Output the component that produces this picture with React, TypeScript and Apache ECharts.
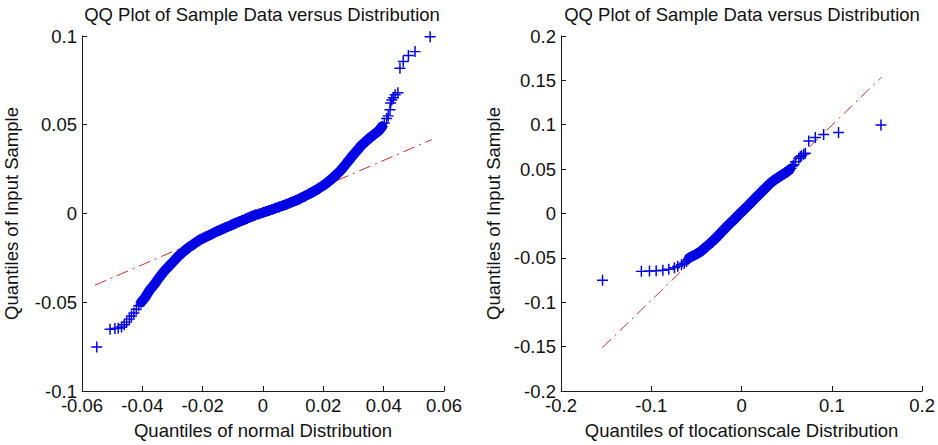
import React, { useEffect, useRef } from "react";
import * as echarts from "echarts";

// Sorted input sample (shared y values of both QQ plots)
const sampleQuantiles = [
  -0.0752, -0.0652, -0.0648, -0.0646, -0.0640, -0.0627, -0.0612, -0.0595, -0.0578, -0.0560,
  -0.0540, -0.0520, -0.0500, -0.0474, -0.0452, -0.0430, -0.0412, -0.0395, -0.0375, -0.0355,
  -0.0337, -0.0320, -0.0305, -0.0290, -0.0274, -0.0258, -0.0245, -0.0232, -0.0220, -0.0207,
  -0.0196, -0.0186, -0.0176, -0.0166, -0.0157, -0.0148, -0.0140, -0.0132, -0.0124, -0.0116,
  -0.0109, -0.0102, -0.0095, -0.0088, -0.0080, -0.0073, -0.0066, -0.0060, -0.0053, -0.0047,
  -0.0040, -0.0033, -0.0027, -0.0020, -0.0014, -0.0008, -0.0002, 0.0005, 0.0011, 0.0017,
  0.0023, 0.0029, 0.0037, 0.0045, 0.0052, 0.0060, 0.0067, 0.0074, 0.0082, 0.0090,
  0.0099, 0.0108, 0.0117, 0.0126, 0.0136, 0.0147, 0.0158, 0.0170, 0.0184, 0.0198,
  0.0214, 0.0230, 0.0244, 0.0258, 0.0274, 0.0290, 0.0306, 0.0322, 0.0337, 0.0352,
  0.0367, 0.0382, 0.0394, 0.0405, 0.0417, 0.0428, 0.0438, 0.0448, 0.0458, 0.0468,
  0.0480, 0.0490, 0.0510, 0.0535, 0.0550, 0.0584, 0.0622, 0.0640, 0.0652, 0.0669,
  0.0680, 0.0818, 0.0856, 0.0890, 0.0912, 0.0996,
];

// Theoretical quantiles of the normal distribution (left plot x)
const normalQuantiles = [
  -0.0551, -0.0507, -0.0491, -0.0480, -0.0469, -0.0460, -0.0452, -0.0443, -0.0436, -0.0428,
  -0.0420, -0.0412, -0.0404, -0.0391, -0.0383, -0.0375, -0.0366, -0.0358, -0.0350, -0.0341,
  -0.0333, -0.0325, -0.0316, -0.0308, -0.0299, -0.0290, -0.0283, -0.0275, -0.0267, -0.0258,
  -0.0250, -0.0242, -0.0233, -0.0225, -0.0217, -0.0209, -0.0200, -0.0190, -0.0180, -0.0170,
  -0.0162, -0.0154, -0.0145, -0.0135, -0.0125, -0.0115, -0.0106, -0.0098, -0.0089, -0.0080,
  -0.0070, -0.0060, -0.0052, -0.0043, -0.0034, -0.0025, -0.0012, 0.0000, 0.0010, 0.0020,
  0.0030, 0.0040, 0.0053, 0.0067, 0.0078, 0.0090, 0.0100, 0.0110, 0.0120, 0.0130,
  0.0140, 0.0150, 0.0160, 0.0170, 0.0180, 0.0190, 0.0200, 0.0210, 0.0220, 0.0230,
  0.0240, 0.0250, 0.0258, 0.0265, 0.0273, 0.0280, 0.0288, 0.0295, 0.0303, 0.0310,
  0.0318, 0.0325, 0.0333, 0.0340, 0.0348, 0.0355, 0.0363, 0.0370, 0.0378, 0.0385,
  0.0390, 0.0395, 0.0402, 0.0410, 0.0415, 0.0421, 0.0423, 0.0427, 0.0432, 0.0438,
  0.0447, 0.0454, 0.0465, 0.0482, 0.0504, 0.0554,
];

// Theoretical quantiles of the t location-scale distribution (right plot x)
const tQuantiles = [
  -0.1540, -0.1110, -0.1020, -0.0946, -0.0872, -0.0806, -0.0744, -0.0707, -0.0665, -0.0635,
  -0.0610, -0.0595, -0.0580, -0.0530, -0.0490, -0.0455, -0.0435, -0.0415, -0.0392, -0.0368,
  -0.0348, -0.0330, -0.0314, -0.0298, -0.0283, -0.0267, -0.0255, -0.0243, -0.0232, -0.0220,
  -0.0210, -0.0200, -0.0191, -0.0181, -0.0172, -0.0164, -0.0156, -0.0148, -0.0140, -0.0132,
  -0.0125, -0.0118, -0.0111, -0.0104, -0.0096, -0.0089, -0.0082, -0.0076, -0.0069, -0.0063,
  -0.0057, -0.0050, -0.0044, -0.0038, -0.0032, -0.0026, -0.0020, -0.0013, -0.0007, 0.0000,
  0.0006, 0.0012, 0.0020, 0.0028, 0.0035, 0.0043, 0.0050, 0.0057, 0.0065, 0.0073,
  0.0081, 0.0090, 0.0099, 0.0108, 0.0117, 0.0127, 0.0138, 0.0150, 0.0163, 0.0177,
  0.0193, 0.0208, 0.0222, 0.0236, 0.0252, 0.0268, 0.0283, 0.0299, 0.0315, 0.0332,
  0.0350, 0.0370, 0.0390, 0.0405, 0.0420, 0.0438, 0.0455, 0.0470, 0.0485, 0.0500,
  0.0515, 0.0530, 0.0548, 0.0565, 0.0580, 0.0597, 0.0634, 0.0650, 0.0665, 0.0689,
  0.0707, 0.0744, 0.0817, 0.0909, 0.1074, 0.1544,
];

// Dense (overlapping markers) part of the sample
const bandFrom = -0.05;
const bandTo = 0.049;

// Reference lines (endpoints)
const refNormalX = [-0.0557, 0.0559];
const refNormalY = [-0.0404, 0.0416];
const refTX = [-0.154, 0.155];
const refTY = [-0.151, 0.1536];

// Texts
const titleText = "QQ Plot of Sample Data versus Distribution";
const leftXName = "Quantiles of normal Distribution";
const rightXName = "Quantiles of tlocationscale Distribution";
const yName = "Quantiles of Input Sample";

const FONT = "'Liberation Sans', Arial, Helvetica, sans-serif";
const FS = 18.5;
const BLUE = "#0000e6";
const RED = "#d42a2a";
const PLUS =
  "path://M5.2,0H6.8V5.2H12V6.8H6.8V12H5.2V6.8H0V5.2H5.2Z";

const fmt = (v: number) => String(parseFloat(v.toFixed(3)));

function axisBase(min: number, max: number, interval: number) {
  return {
    type: "value" as const,
    min,
    max,
    interval,
    axisLine: { show: true, onZero: false, lineStyle: { color: "#1a1a1a", width: 1 } },
    axisTick: { show: true, inside: true, length: 5, lineStyle: { color: "#1a1a1a" } },
    splitLine: { show: false },
    axisLabel: {
      color: "#111",
      fontSize: FS,
      fontFamily: FONT,
      showMinLabel: true,
      showMaxLabel: true,
      margin: 5,
      formatter: fmt,
    },
    nameTextStyle: { color: "#111", fontSize: FS, fontFamily: FONT },
  };
}

export default function App() {
  const ref = useRef<HTMLDivElement>(null);
  useEffect(() => {
    if (!ref.current) return;
    const chart = echarts.init(ref.current, undefined, { renderer: "svg" });

    const leftPts = sampleQuantiles.map((y, i) => [normalQuantiles[i], y]);
    const rightPts = sampleQuantiles.map((y, i) => [tQuantiles[i], y]);
    const inBand = (_p: number[], i: number) =>
      sampleQuantiles[i] >= bandFrom && sampleQuantiles[i] <= bandTo;
    const leftBand = leftPts.filter(inBand);
    const rightBand = rightPts.filter(inBand);

    const bandSeries = (idx: number, data: number[][]) => ({
      type: "line",
      xAxisIndex: idx,
      yAxisIndex: idx,
      data,
      showSymbol: false,
      symbol: "none",
      lineStyle: { color: BLUE, width: 10, cap: "round", join: "round" },
      silent: true,
      z: 3,
    });
    const scatterSeries = (idx: number, data: number[][]) => ({
      type: "scatter",
      xAxisIndex: idx,
      yAxisIndex: idx,
      data,
      symbol: PLUS,
      symbolSize: 11,
      itemStyle: { color: BLUE, opacity: 1 },
      silent: true,
      z: 4,
    });
    const refSeries = (idx: number, xs: number[], ys: number[]) => ({
      type: "line",
      xAxisIndex: idx,
      yAxisIndex: idx,
      data: xs.map((x, i) => [x, ys[i]]),
      symbol: "none",
      lineStyle: { color: RED, width: 1, type: [12, 5, 2, 5] },
      silent: true,
      z: 2,
    });
    const titleStyle = { color: "#111", fontSize: FS, fontWeight: "normal", fontFamily: FONT };

    chart.setOption({
      animation: false,
      backgroundColor: "#ffffff",
      title: [
        { text: titleText, left: 262, top: 5, textAlign: "center", padding: 0, textStyle: titleStyle },
        { text: titleText, left: 742, top: 5, textAlign: "center", padding: 0, textStyle: titleStyle },
      ],
      grid: [
        { left: 82, top: 36, width: 362, height: 356 },
        { left: 561, top: 36, width: 363, height: 356 },
      ],
      xAxis: [
        {
          ...axisBase(-0.06, 0.06, 0.02),
          gridIndex: 0,
          name: leftXName,
          nameLocation: "middle",
          nameGap: 30,
        },
        {
          ...axisBase(-0.2, 0.2, 0.1),
          gridIndex: 1,
          name: rightXName,
          nameLocation: "middle",
          nameGap: 30,
        },
      ],
      yAxis: [
        {
          ...axisBase(-0.1, 0.1, 0.05),
          gridIndex: 0,
          name: yName,
          nameLocation: "middle",
          nameGap: 61,
        },
        {
          ...axisBase(-0.2, 0.2, 0.05),
          gridIndex: 1,
          name: yName,
          nameLocation: "middle",
          nameGap: 58,
        },
      ],
      series: [
        refSeries(0, refNormalX, refNormalY),
        bandSeries(0, leftBand),
        scatterSeries(0, leftPts),
        refSeries(1, refTX, refTY),
        bandSeries(1, rightBand),
        scatterSeries(1, rightPts),
      ],
    });
    return () => chart.dispose();
  }, []);

  return (
    <div
      ref={ref}
      style={{ position: "fixed", left: 0, top: 0, width: 938, height: 445, background: "#fff" }}
    />
  );
}
